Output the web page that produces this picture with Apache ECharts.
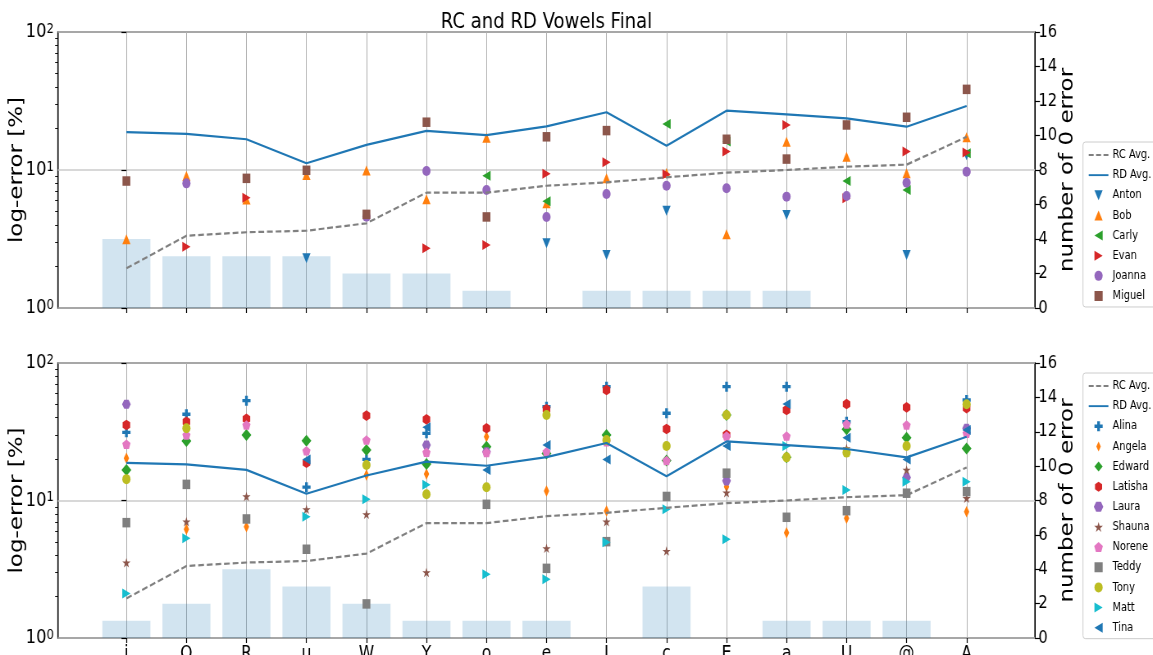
<!DOCTYPE html>
<html>
<head>
<meta charset="utf-8">
<title>RC and RD Vowels Final</title>
<script src="https://cdn.jsdelivr.net/npm/echarts@6/dist/echarts.min.js"></script>
<style>
  html, body { margin: 0; padding: 0; background: #fff; overflow: hidden; }
  #wrap { width: 1153px; height: 655px; overflow: hidden; }
  /* the figure is laid out wide and then narrowed horizontally */
  #chart { width: 1406px; height: 655px; transform: scaleX(0.82); transform-origin: 0 0; }
</style>
</head>
<body>
<div id="wrap"><div id="chart"></div></div>
<script>
// ---- categories ----
const vowels = ['i', 'O', 'R', 'u', 'W', 'Y', 'o', 'e', 'I', 'c', 'E', 'a', 'U', '@', 'A'];

// ---- group averages (log-error %) ----
const rcAvg = [1.94, 3.34, 3.54, 3.63, 4.11, 6.85, 6.85, 7.69, 8.14, 8.85, 9.56, 10.0, 10.57, 10.93, 17.4];
const rdAvg = [18.8, 18.3, 16.7, 11.2, 15.2, 19.2, 17.9, 20.7, 26.2, 15.0, 26.9, 25.3, 23.7, 20.6, 29.1];

// ---- number of speakers with 0 error per vowel ----
const zeroErrTop    = [4, 3, 3, 3, 2, 2, 1, 0, 1, 1, 1, 1, 0, 0, 0];
const zeroErrBottom = [1, 2, 4, 3, 2, 1, 1, 1, 0, 3, 0, 1, 1, 1, 0];

// ---- RC speakers ----
const anton  = [null, null, null, 2.29, null, null, null, 2.94, 2.42, 5.07, null, 4.72, null, 2.42, 12.8];
const bob    = [3.15, 9.05, 6.1, 9.2, 9.9, 6.13, 17.1, 5.74, 8.7, 9.5, 3.42, 16.0, 12.5, 9.47, 17.3];
const carly  = [null, null, null, null, null, null, 9.1, 5.93, null, 21.5, 16.1, null, 8.32, 7.16, 13.2];
const evan   = [null, 2.78, 6.3, null, null, 2.71, 2.86, 9.4, 11.4, 9.3, 13.6, 21.2, 6.23, 13.6, 13.4];
const joanna = [null, 8.0, null, null, 4.59, 9.84, 7.16, 4.57, 6.7, 7.7, 7.37, 6.41, 6.48, 8.09, 9.72];
const miguel = [8.32, null, 8.7, 9.95, 4.77, 22.2, 4.57, 17.4, 19.3, null, 16.7, 12.0, 21.2, 24.1, 38.4];

// ---- RD speakers ----
const alina   = [31.3, 42.4, 53.2, 12.5, 19.9, 30.8, null, 48.1, 67.3, 43.1, 67.3, 67.3, 37.4, null, 53.8];
const angela  = [20.3, 6.17, 6.45, null, 15.3, 15.6, 29.1, 11.7, 8.39, null, 12.6, 5.83, 7.42, null, 8.29];
const edward  = [16.7, 27.1, 29.9, 27.2, 23.3, 18.4, 24.6, 22.0, 29.9, 19.5, 41.9, 20.6, 33.0, 28.6, 23.9];
const latisha = [35.4, 37.4, 39.2, 18.8, 41.4, 38.9, 33.5, 46.1, 63.6, 33.1, 30.0, 45.5, 50.3, 47.6, 46.9];
const laura   = [50.1, null, null, null, null, 25.3, 22.6, null, null, null, 13.9, null, null, 14.7, 33.5];
const shauna  = [3.53, 7.01, 10.7, 8.63, 7.93, 3.0, null, 4.49, 7.01, 4.29, 11.4, null, 23.9, 16.7, 10.4];
const norene  = [25.7, 29.9, 35.4, 23.0, 27.5, 22.4, 22.3, 22.6, 26.8, 19.5, 29.4, 29.4, 36.0, 35.4, 30.8];
const teddy   = [6.9, 13.1, 7.34, 4.42, 1.77, null, 9.38, 3.21, 5.02, 10.7, 15.8, 7.55, 8.43, 11.3, 11.6];
const tony    = [14.3, 33.5, null, null, 18.1, 11.1, 12.5, 41.9, 27.5, 24.9, 41.9, 20.6, 22.3, 24.9, 50.1];
const matt    = [2.11, 5.31, null, 7.63, 10.2, 13.0, 2.91, 2.67, 4.97, 8.63, 5.22, 24.9, 11.9, 13.7, 13.7];
const tina    = [null, null, null, 19.9, null, 34.1, 16.7, 25.3, 19.9, null, 24.9, 50.3, 28.6, 19.9, 32.6];

// ---- marker shapes ----
const M = {
  triUp:    'path://M0,10L5,0L10,10Z',
  triDown:  'path://M0,0L10,0L5,10Z',
  triLeft:  'path://M10,0L10,10L0,5Z',
  triRight: 'path://M0,0L10,5L0,10Z',
  square:   'path://M0,0H10V10H0Z',
  plus:     'path://M-1,-3H1V-1H3V1H1V3H-1V1H-3V-1H-1Z',
  thinDiam: 'path://M3,0L6,5.5L3,11L0,5.5Z',
  diamond:  'path://M5,0L10,5L5,10L0,5Z',
  hexPoint: 'path://M0,-1L0.866,-0.5L0.866,0.5L0,1L-0.866,0.5L-0.866,-0.5Z',
  hexFlat:  'path://M-1,0L-0.5,-0.866L0.5,-0.866L1,0L0.5,0.866L-0.5,0.866Z',
  pentagon: 'path://M0,-1L0.951,-0.309L0.588,0.809L-0.588,0.809L-0.951,-0.309Z',
  star:     'path://M0,-1L0.2245,-0.309L0.9511,-0.309L0.3633,0.118L0.5878,0.809L0,0.382L-0.5878,0.809L-0.3633,0.118L-0.9511,-0.309L-0.2245,-0.309Z',
  // legend keys for the two average lines
  dashKey:  'path://M0,0H7V2.2H0Z M10.5,0H17.5V2.2H10.5Z M21,0H28V2.2H21Z',
  solidKey: 'path://M0,0H28V2.2H0Z'
};

const topSpeakers = [
  { name: 'Anton',  data: anton,  color: '#1f77b4', symbol: M.triDown,  size: 10 },
  { name: 'Bob',    data: bob,    color: '#ff7f0e', symbol: M.triUp,    size: 10 },
  { name: 'Carly',  data: carly,  color: '#2ca02c', symbol: M.triLeft,  size: 10 },
  { name: 'Evan',   data: evan,   color: '#d62728', symbol: M.triRight, size: 10 },
  { name: 'Joanna', data: joanna, color: '#9467bd', symbol: 'circle',   size: 10 },
  { name: 'Miguel', data: miguel, color: '#8c564b', symbol: M.square,   size: 9.5 }
];
const bottomSpeakers = [
  { name: 'Alina',   data: alina,   color: '#1f77b4', symbol: M.plus,     size: 10 },
  { name: 'Angela',  data: angela,  color: '#ff7f0e', symbol: M.thinDiam, size: [6.5, 11.5] },
  { name: 'Edward',  data: edward,  color: '#2ca02c', symbol: M.diamond,  size: 12 },
  { name: 'Latisha', data: latisha, color: '#d62728', symbol: M.hexPoint, size: [9.2, 10.6] },
  { name: 'Laura',   data: laura,   color: '#9467bd', symbol: M.hexFlat,  size: [10.6, 9.2] },
  { name: 'Shauna',  data: shauna,  color: '#8c564b', symbol: M.star,     size: [10, 9.5] },
  { name: 'Norene',  data: norene,  color: '#e377c2', symbol: M.pentagon, size: [10, 9.5] },
  { name: 'Teddy',   data: teddy,   color: '#7f7f7f', symbol: M.square,   size: 9.5 },
  { name: 'Tony',    data: tony,    color: '#bcbd22', symbol: 'circle',   size: 10 },
  { name: 'Matt',    data: matt,    color: '#17becf', symbol: M.triRight, size: 10 },
  { name: 'Tina',    data: tina,    color: '#1f77b4', symbol: M.triLeft,  size: 10 }
];

// ---- layout ----
const FONT = 'DejaVu Sans';
const GRID_LEFT = 70.7, GRID_W = 1191.5;
const X_MIN = -1.14, X_MAX = 15.14;
const BAR_W = 0.8 * GRID_W / (X_MAX - X_MIN);
const catIdx = vowels.map((_, i) => i);
const minorLog = [2, 3, 4, 5, 6, 7, 8, 9, 20, 30, 40, 50, 60, 70, 80, 90].map(Math.log10);

const pairs = arr => arr.map((v, i) => (v == null ? null : [i, v])).filter(p => p !== null);

function xAxisFor(g, showLabels) {
  return {
    type: 'value', gridIndex: g, min: X_MIN, max: X_MAX,
    axisLine: { show: false },
    axisTick: { show: true, customValues: catIdx, length: 5, lineStyle: { color: '#000', width: 1.2 } },
    axisLabel: {
      show: showLabels, customValues: catIdx, margin: 7,
      formatter: v => vowels[Math.round(v)] || '',
      fontFamily: FONT, fontSize: 19, color: '#000'
    },
    splitLine: { show: true, lineStyle: { color: '#b0b0b0', width: 1 } }
  };
}
function logAxisFor(g) {
  return {
    type: 'log', logBase: 10, gridIndex: g, min: 1, max: 100, position: 'left',
    name: 'log-error [%]', nameLocation: 'middle', nameGap: 38, nameRotate: 90,
    nameMoveOverlap: false,
    nameTextStyle: { fontFamily: FONT, fontSize: 23, color: '#000' },
    axisLine: { show: false },
    axisTick: { show: true, length: 6, lineStyle: { color: '#000', width: 1.2 } },
    axisLabel: {
      margin: 5,
      formatter: v => '{b|10}{s|' + Math.round(Math.log10(v)) + '}',
      rich: {
        b: { fontFamily: FONT, fontSize: 20, color: '#000' },
        s: { fontFamily: FONT, fontSize: 14, color: '#000', verticalAlign: 'top' }
      }
    },
    splitLine: { show: true, lineStyle: { color: '#cbcbcb', width: 1.6 } }
  };
}
function countAxisFor(g) {
  return {
    type: 'value', gridIndex: g, min: 0, max: 16, interval: 2, position: 'right',
    name: 'number of 0 error', nameLocation: 'middle', nameGap: 28, nameRotate: 90,
    nameMoveOverlap: false,
    nameTextStyle: { fontFamily: FONT, fontSize: 23, color: '#000' },
    axisLine: { show: false },
    axisTick: { show: true, length: 6, lineStyle: { color: '#000', width: 1.2 } },
    axisLabel: { margin: 4, fontFamily: FONT, fontSize: 18, color: '#000' },
    splitLine: { show: false }
  };
}
function minorAxisFor(g) {
  // minor log ticks (2..9 per decade) on a linear exponent scale
  return {
    type: 'value', gridIndex: g, min: 0, max: 2, position: 'left',
    axisLine: { show: false }, axisLabel: { show: false }, splitLine: { show: false },
    axisTick: { show: true, customValues: minorLog, length: 3.5, lineStyle: { color: '#000', width: 0.9 } }
  };
}
function legendFor(top, speakers) {
  return {
    orient: 'vertical', left: 1320.7, top: top,
    data: [
      { name: 'RC Avg.', icon: M.dashKey },
      { name: 'RD Avg.', icon: M.solidKey }
    ].concat(speakers.map(s => ({ name: s.name }))),
    padding: [6, 8, 4, 7], itemWidth: 24, itemHeight: 10, itemGap: 6.14,
    borderColor: '#cccccc', borderWidth: 1, borderRadius: 3,
    backgroundColor: 'rgba(255,255,255,0.8)',
    textStyle: { fontFamily: FONT, fontSize: 12, color: '#000', lineHeight: 14 }
  };
}
function panelSeries(g, xIdx, logIdx, cntIdx, zeroErr, speakers) {
  const out = [];
  out.push({
    type: 'bar', name: 'zero-error count ' + g, xAxisIndex: xIdx, yAxisIndex: cntIdx,
    data: pairs(zeroErr), barWidth: BAR_W, silent: true,
    itemStyle: { color: 'rgba(31,119,180,0.2)' }
  });
  out.push({
    type: 'line', name: 'RC Avg.', xAxisIndex: xIdx, yAxisIndex: logIdx,
    data: pairs(rcAvg), symbol: 'none', silent: true,
    itemStyle: { color: '#808080' },
    lineStyle: { color: '#808080', width: 2.2, type: [7, 3.5] }
  });
  out.push({
    type: 'line', name: 'RD Avg.', xAxisIndex: xIdx, yAxisIndex: logIdx,
    data: pairs(rdAvg), symbol: 'none', silent: true,
    itemStyle: { color: '#1f77b4' },
    lineStyle: { color: '#1f77b4', width: 2.2 }
  });
  speakers.forEach(s => out.push({
    type: 'scatter', name: s.name, xAxisIndex: xIdx, yAxisIndex: logIdx,
    data: pairs(s.data), symbol: s.symbol, symbolSize: s.size, silent: true,
    itemStyle: { color: s.color, opacity: 1 }
  }));
  return out;
}

const gridBase = { left: GRID_LEFT, width: GRID_W, show: true, borderColor: '#000', borderWidth: 1.6, backgroundColor: 'transparent', outerBoundsMode: 'none', containLabel: false };

const chart = echarts.init(document.getElementById('chart'), null, { width: 1406, height: 655, renderer: 'canvas' });
chart.setOption({
  animation: false,
  backgroundColor: '#ffffff',
  title: {
    text: 'RC and RD Vowels Final', left: GRID_LEFT + GRID_W / 2, top: 11, textAlign: 'center', padding: 0,
    textStyle: { fontFamily: FONT, fontSize: 22, fontWeight: 'normal', color: '#000' }
  },
  grid: [
    Object.assign({ top: 32, height: 276 }, gridBase),
    Object.assign({ top: 363, height: 275 }, gridBase)
  ],
  xAxis: [xAxisFor(0, false), xAxisFor(1, true)],
  yAxis: [logAxisFor(0), countAxisFor(0), minorAxisFor(0), logAxisFor(1), countAxisFor(1), minorAxisFor(1)],
  legend: [legendFor(142, topSpeakers), legendFor(373, bottomSpeakers)],
  series: panelSeries(0, 0, 0, 1, zeroErrTop, topSpeakers)
    .concat(panelSeries(1, 1, 3, 4, zeroErrBottom, bottomSpeakers))
});
</script>
</body>
</html>
